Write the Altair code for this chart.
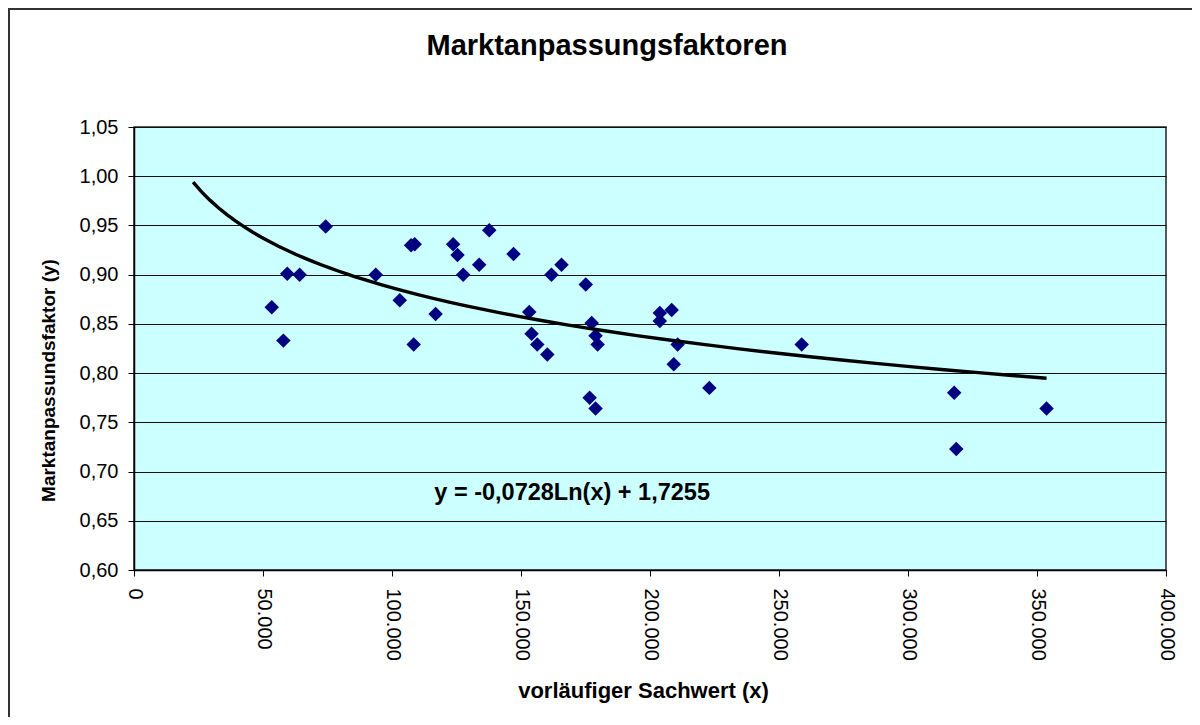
import altair as alt
import pandas as pd

# Data
sachwert = [53400, 57900, 59400, 64200, 74300, 93700, 103000, 107400, 108800, 108400,
            116900, 123700, 125400, 127600, 133800, 137700, 147100, 153200, 154100, 156300,
            160200, 161800, 165700, 175100, 177400, 178900, 179700, 176600, 178900, 203800,
            203800, 208400, 210700, 209200, 223000, 258800, 317900, 318700, 353700]
faktor = [0.867, 0.833, 0.901, 0.900, 0.949, 0.900, 0.874, 0.930, 0.931, 0.829,
          0.860, 0.931, 0.920, 0.900, 0.910, 0.945, 0.921, 0.862, 0.840, 0.829,
          0.819, 0.900, 0.910, 0.890, 0.851, 0.838, 0.829, 0.775, 0.764, 0.861,
          0.853, 0.864, 0.829, 0.809, 0.785, 0.829, 0.780, 0.723, 0.764]
trend_extent = [22900, 353700]
equation_text = ["y = -0,0728Ln(x) + 1,7255"]
equation_pos_x = [116400]
equation_pos_y = [0.678]
x_ticks = [0, 50000, 100000, 150000, 200000, 250000, 300000, 350000, 400000]
y_ticks = [0.60, 0.65, 0.70, 0.75, 0.80, 0.85, 0.90, 0.95, 1.00, 1.05]

df = pd.DataFrame({"x": sachwert, "y": faktor})
eq_df = pd.DataFrame({"x": equation_pos_x, "y": equation_pos_y, "label": equation_text})
frame_df = pd.DataFrame({"a": [0]})

FONT = "Liberation Sans"

x_scale = alt.Scale(domain=[0, 400000], nice=False, zero=False)
y_scale = alt.Scale(domain=[0.60, 1.05], nice=False, zero=False)

x_axis = alt.Axis(
    values=x_ticks,
    title="vorläufiger Sachwert (x)",
    labelAngle=90,
    labelAlign="left",
    labelBaseline="middle",
    labelPadding=12,
    labelExpr="datum.value == 0 ? '0' : replace(format(datum.value, ','), ',', '.')",
    grid=False,
    titleX=509,
    titleY=120,
    titleAlign="center",
    titleBaseline="middle",
    titleFontSize=22,
)
y_axis = alt.Axis(
    values=y_ticks,
    title="Marktanpassundsfaktor (y)",
    labelExpr="replace(format(datum.value, '.2f'), '.', ',')",
    labelPadding=10,
    grid=True,
    gridColor="#111111",
    gridWidth=1,
    gridOpacity=1,
    titleAngle=-90,
    titleX=-86,
    titleY=253,
    titleAlign="center",
    titleBaseline="middle",
    titleFontSize=19,
)

frame = alt.Chart(frame_df).mark_rect(
    fillOpacity=0, stroke="#333333", strokeWidth=2
).encode(
    x=alt.value(-125), y=alt.value(-118), x2=alt.value(1300), y2=alt.value(900)
)

points = alt.Chart(df).mark_point(
    shape="diamond", filled=True, color="#000080", size=210, opacity=1
).encode(
    x=alt.X("x:Q", scale=x_scale, axis=x_axis),
    y=alt.Y("y:Q", scale=y_scale, axis=y_axis),
)

trend = alt.Chart(df).transform_regression(
    "x", "y", method="log", extent=trend_extent
).mark_line(color="#000000", strokeWidth=3.4).encode(
    x=alt.X("x:Q", scale=x_scale),
    y=alt.Y("y:Q", scale=y_scale),
)

equation = alt.Chart(eq_df).mark_text(
    align="left", baseline="middle", font=FONT, fontSize=23.5, fontWeight="bold", color="#000000"
).encode(
    x=alt.X("x:Q", scale=x_scale),
    y=alt.Y("y:Q", scale=y_scale),
    text="label:N",
)

chart = alt.layer(frame, points, trend, equation).properties(
    width=1032,
    height=443,
    autosize=alt.AutoSizeParams(type="none"),
    padding={"left": 126, "top": 119, "right": 26, "bottom": 147},
    title=alt.TitleParams(
        "Marktanpassungsfaktoren",
        font=FONT,
        fontSize=29,
        fontWeight="bold",
        color="#000000",
        anchor="middle",
        frame="group",
        baseline="alphabetic",
        offset=0,
        dx=-43,
        dy=76,
    ),
).configure(
    background="#FFFFFF"
).configure_view(
    fill="#CCFFFF", stroke="#222222", strokeWidth=1.5
).configure_axis(
    labelFont=FONT,
    labelFontSize=20,
    labelColor="#000000",
    titleFont=FONT,
    titleFontWeight="bold",
    titleColor="#000000",
    domainColor="#000000",
    domainWidth=1.5,
    tickColor="#000000",
    tickSize=6,
    tickWidth=1,
)

chart.save("out.html", embed_options={"renderer": "svg", "actions": False})
